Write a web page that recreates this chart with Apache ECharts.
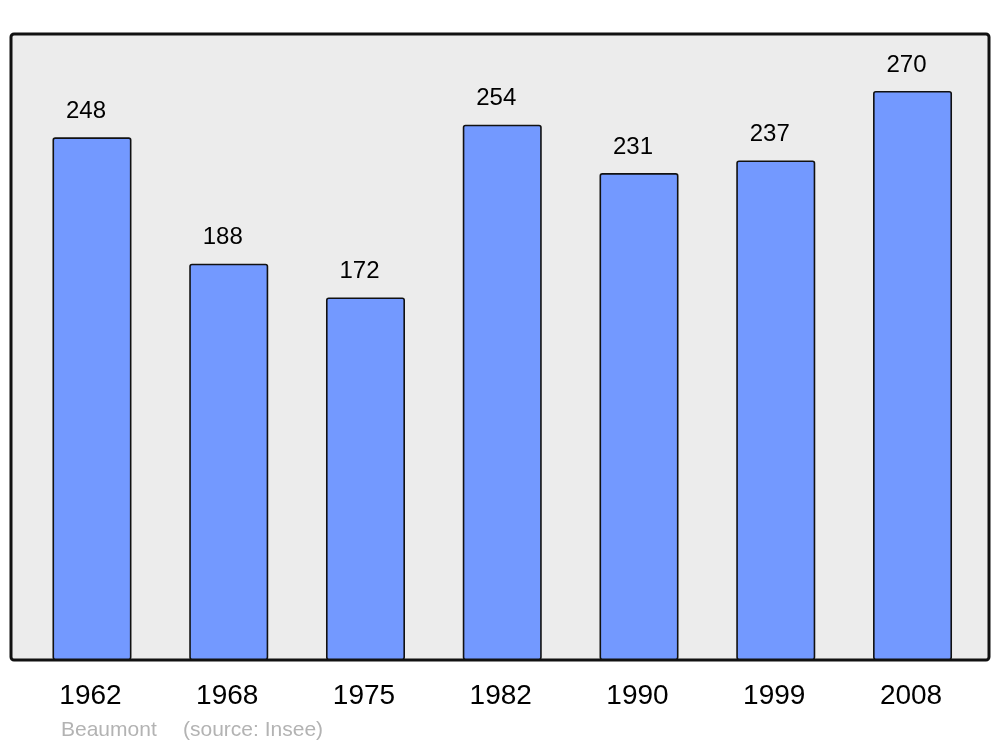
<!DOCTYPE html>
<html>
<head>
<meta charset="utf-8">
<script src="https://cdn.jsdelivr.net/npm/echarts@6/dist/echarts.min.js"></script>
<style>
  html, body { margin: 0; padding: 0; background: #fff; }
  #chart { width: 1000px; height: 747px; }
</style>
</head>
<body>
<div id="chart"></div>
<script>
// population by census year
const years = ['1962', '1968', '1975', '1982', '1990', '1999', '2008']
const population = [248, 188, 172, 254, 231, 237, 270]
const place = 'Beaumont'
const source = '(source: Insee)'

const chart = echarts.init(document.getElementById('chart'))

const footFont = '21px "Liberation Sans", Arial, sans-serif'

const option = {
  animation: false,
  backgroundColor: '#ffffff',
  textStyle: { fontFamily: '"Liberation Sans", Arial, sans-serif' },
  graphic: [
    {
      type: 'rect',
      z: -10,
      shape: { x: 11, y: 34, width: 978, height: 626, r: 3 },
      style: { fill: '#ececec', stroke: '#111', lineWidth: 3 }
    },
    {
      type: 'text',
      left: 61,
      top: 720,
      style: { text: place, fill: '#b3b3b3', font: footFont }
    },
    {
      type: 'text',
      left: 183,
      top: 720,
      style: { text: source, fill: '#b3b3b3', font: footFont }
    }
  ],
  grid: {
    left: 23.6,
    right: 19.1,
    top: 34,
    bottom: 87
  },
  xAxis: {
    type: 'category',
    data: years,
    axisLine: { show: false },
    axisTick: { show: false },
    axisLabel: {
      color: '#000',
      fontSize: 28,
      margin: 22,
      padding: [0, 3, 0, 0]
    }
  },
  yAxis: {
    type: 'value',
    min: 0,
    max: 297,
    show: false,
    splitLine: { show: false }
  },
  series: [
    {
      type: 'bar',
      data: population,
      barWidth: 79,
      itemStyle: {
        color: '#7399ff',
        borderColor: '#111',
        borderWidth: 1.6,
        borderRadius: 2
      },
      label: {
        show: true,
        position: 'top',
        distance: 14,
        offset: [-6, 0],
        color: '#000',
        fontSize: 24
      }
    }
  ]
}

chart.setOption(option)
window.addEventListener('resize', () => chart.resize())
</script>
</body>
</html>
